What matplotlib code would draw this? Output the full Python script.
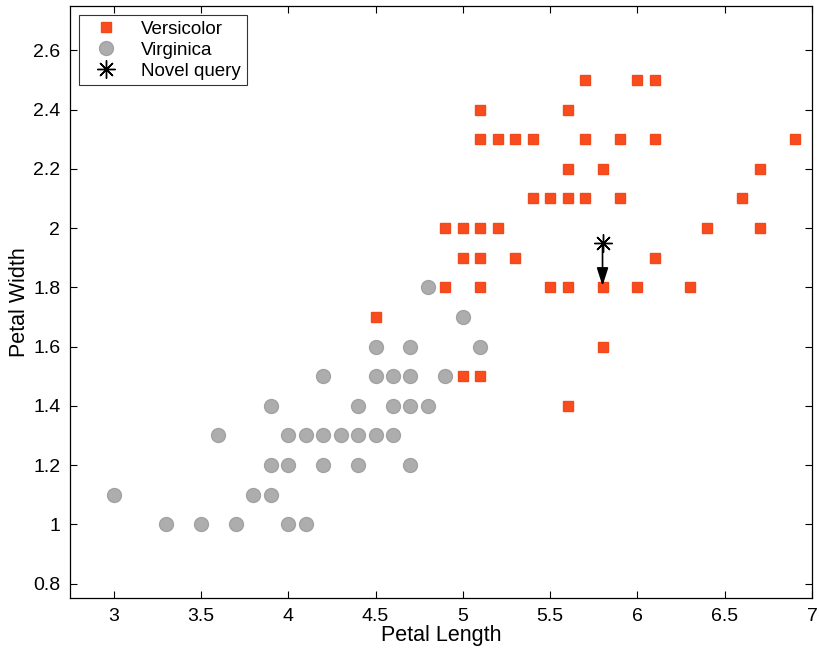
import numpy as np
from matplotlib import pyplot as plt

plt.rcParams['font.family'] = ['Liberation Sans', 'DejaVu Sans']

# Versicolor (red squares): petal width level -> petal lengths
versicolor_w = [1.4, 1.5, 1.5, 1.6, 1.7,
                1.8, 1.8, 1.8, 1.8, 1.8, 1.8, 1.8,
                1.9, 1.9, 1.9, 1.9,
                2.0, 2.0, 2.0, 2.0, 2.0, 2.0,
                2.1, 2.1, 2.1, 2.1, 2.1, 2.1,
                2.2, 2.2, 2.2,
                2.3, 2.3, 2.3, 2.3, 2.3, 2.3, 2.3, 2.3,
                2.4, 2.4,
                2.5, 2.5, 2.5]
versicolor_l = [5.6, 5.0, 5.1, 5.8, 4.5,
                4.9, 5.1, 5.5, 5.6, 5.8, 6.0, 6.3,
                5.0, 5.1, 5.3, 6.1,
                4.9, 5.0, 5.1, 5.2, 6.4, 6.7,
                5.4, 5.5, 5.6, 5.7, 5.9, 6.6,
                5.6, 5.8, 6.7,
                5.1, 5.2, 5.3, 5.4, 5.7, 5.9, 6.1, 6.9,
                5.1, 5.6,
                5.7, 6.0, 6.1]

# Virginica (grey circles)
virginica_w = [1.0, 1.0, 1.0, 1.0, 1.0,
               1.1, 1.1, 1.1,
               1.2, 1.2, 1.2, 1.2, 1.2,
               1.3, 1.3, 1.3, 1.3, 1.3, 1.3, 1.3, 1.3,
               1.4, 1.4, 1.4, 1.4, 1.4,
               1.5, 1.5, 1.5, 1.5, 1.5,
               1.6, 1.6, 1.6,
               1.7, 1.8]
virginica_l = [3.3, 3.5, 3.7, 4.0, 4.1,
               3.0, 3.8, 3.9,
               3.9, 4.0, 4.2, 4.4, 4.7,
               3.6, 4.0, 4.1, 4.2, 4.3, 4.4, 4.5, 4.6,
               3.9, 4.4, 4.6, 4.7, 4.8,
               4.2, 4.5, 4.6, 4.7, 4.9,
               4.5, 4.7, 5.1,
               5.0, 4.8]

query = (5.8, 1.95)
nearest = (5.8, 1.8)

xticks = [3, 3.5, 4, 4.5, 5, 5.5, 6, 6.5, 7]
xticklabels = ['3', '3.5', '4', '4.5', '5', '5.5', '6', '6.5', '7']
yticks = [0.8, 1, 1.2, 1.4, 1.6, 1.8, 2, 2.2, 2.4, 2.6]
yticklabels = ['0.8', '1', '1.2', '1.4', '1.6', '1.8', '2', '2.2', '2.4', '2.6']

fig = plt.figure(figsize=(8.19, 6.54), dpi=100)
ax = fig.add_axes([0.0855, 0.085, 0.906, 0.906])

ax.plot(versicolor_l, versicolor_w, linestyle='none', marker='s', markersize=7.5,
        color='#f84c1e', markeredgecolor='#f04a1c', label='Versicolor')
ax.plot(virginica_l, virginica_w, linestyle='none', marker='o', markersize=10,
        color='#adadad', markeredgecolor='#a2a2a2', label='Virginica')
ax.plot([query[0]], [query[1]], linestyle='none', marker=(8, 2, 0), markersize=13,
        color='black', markeredgewidth=1.0, label='Novel query')

ax.annotate('', xy=nearest, xytext=query,
            arrowprops=dict(arrowstyle='-|>,head_length=1.1,head_width=0.35',
                            color='black', lw=1.2, shrinkA=0, shrinkB=1))

ax.set_xlim(2.75, 7)
ax.set_ylim(0.75, 2.75)
ax.set_xticks(xticks)
ax.set_xticklabels(xticklabels)
ax.set_yticks(yticks)
ax.set_yticklabels(yticklabels)
ax.tick_params(direction='in', top=True, right=True, length=5, width=0.8,
               labelsize=14, pad=7)
for s in ax.spines.values():
    s.set_linewidth(0.9)

ax.set_xlabel('Petal Length', fontsize=15.5, labelpad=0)
ax.set_ylabel('Petal Width', fontsize=15.5, labelpad=2)

leg = ax.legend(loc='upper left', fontsize=13.5, frameon=True, fancybox=False,
                borderaxespad=0.5, handletextpad=0.8, labelspacing=0.2,
                handlelength=2.2, borderpad=0.3)
leg.get_frame().set_edgecolor('black')
leg.get_frame().set_linewidth(0.8)

fig.savefig('out.png', dpi=100)
